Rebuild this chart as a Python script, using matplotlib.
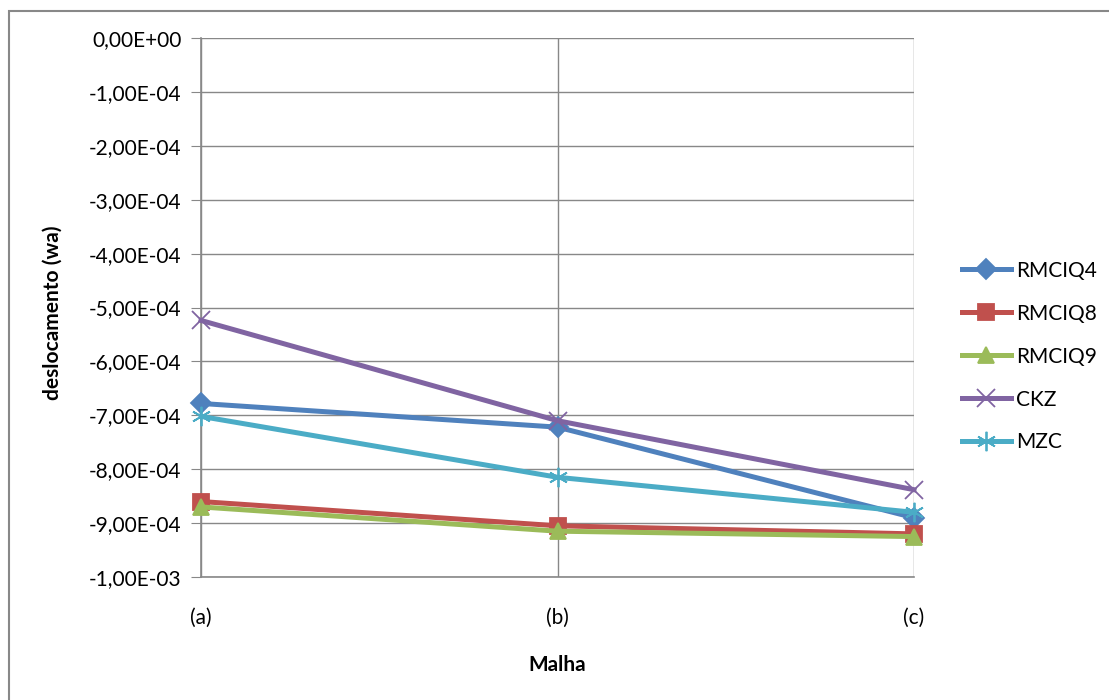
import matplotlib
matplotlib.use('Agg')
import matplotlib.pyplot as plt
from matplotlib.patches import Rectangle
from matplotlib.ticker import FuncFormatter

plt.rcParams['font.family'] = ['Lato', 'DejaVu Sans']

# data
categories = ['(a)', '(b)', '(c)']
rmciq4 = [-6.78e-4, -7.22e-4, -8.90e-4]
rmciq8 = [-8.60e-4, -9.05e-4, -9.20e-4]
rmciq9 = [-8.70e-4, -9.15e-4, -9.25e-4]
ckz = [-5.24e-4, -7.10e-4, -8.38e-4]
mzc = [-7.02e-4, -8.15e-4, -8.80e-4]

series_names = ['RMCIQ4', 'RMCIQ8', 'RMCIQ9', 'CKZ', 'MZC']
series_vals = [rmciq4, rmciq8, rmciq9, ckz, mzc]
colors = ['#4F81BD', '#C0504D', '#9BBB59', '#8064A2', '#4BACC6']
markers = ['D', 's', '^', 'x', (6, 2, 0)]
msizes = [10, 12, 12, 13, 14]

W, H = 1109, 700
fig = plt.figure(figsize=(W / 100, H / 100), dpi=100)

# outer chart border
fig.patches.append(Rectangle((9 / W, -0.05), 1.2, 1 - 11 / H + 0.05,
                             transform=fig.transFigure, fill=False,
                             ec='#888888', lw=1.5, clip_on=False))

ax = fig.add_axes([201 / W, 1 - 577 / H, (914 - 201) / W, (577 - 38) / H])
x = list(range(len(categories)))

handles = []
for name, vals, c, m, ms in zip(series_names, series_vals, colors, markers, msizes):
    ln, = ax.plot(x, vals, color=c, lw=3.6, marker=m, ms=ms, mew=1.3,
                  label=name, zorder=3, clip_on=False)
    handles.append(ln)

ax.set_xlim(0, 2)
ax.set_ylim(-1.0e-3, 0)
ax.set_yticks([i * -1e-4 for i in range(11)])
ax.set_xticks(x)
ax.set_xticklabels(categories)


def fmt(v, pos):
    if abs(v) < 1e-12:
        return '0,00E+00'
    return ('%.2E' % v).replace('.', ',')


ax.yaxis.set_major_formatter(FuncFormatter(fmt))
ax.grid(True, color='#888888', lw=1)
ax.set_axisbelow(True)
for side in ['top', 'right']:
    ax.spines[side].set_visible(False)
for side in ['left', 'bottom']:
    ax.spines[side].set_color('#888888')
    ax.spines[side].set_linewidth(1.2)
ax.tick_params(axis='y', length=7, color='#888888', labelsize=15, pad=7)
ax.tick_params(axis='x', length=0, labelsize=15, pad=22)

ax.set_ylabel('deslocamento (wa)', fontsize=15, fontweight='bold')
ax.yaxis.set_label_coords((63 - 201) / 713, 0.49)
ax.set_xlabel('Malha', fontsize=15, fontweight='bold')
ax.xaxis.set_label_coords(0.5, -(655 - 577) / 539)

fig.legend(handles, series_names, loc='upper left',
           bbox_to_anchor=(943 / W, 1 - 242 / H), frameon=False,
           fontsize=15, handlelength=2.35, handletextpad=0.25,
           labelspacing=1.1)

fig.savefig('out.png', dpi=100, facecolor='white')
